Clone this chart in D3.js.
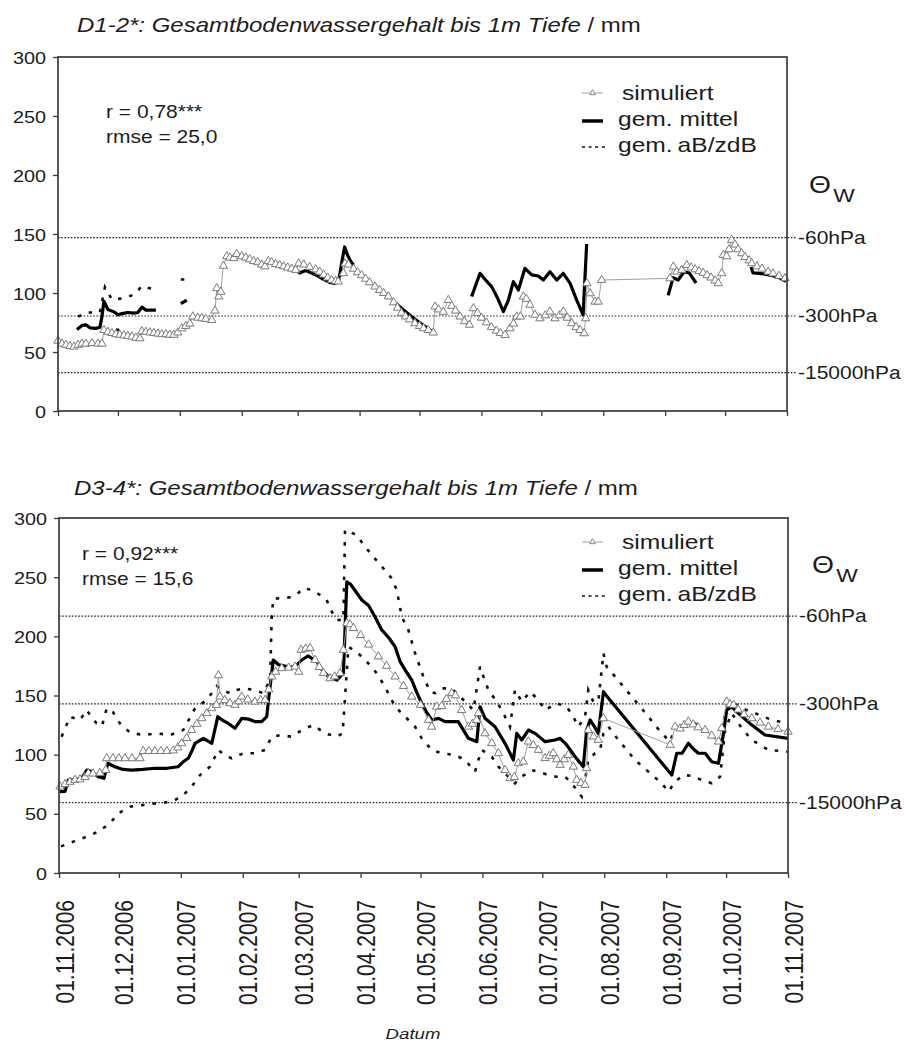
<!DOCTYPE html>
<html>
<head>
<meta charset="utf-8">
<script src="https://cdn.jsdelivr.net/npm/d3@7"></script>
<style>
  html, body { margin: 0; padding: 0; background: #fff; }
  svg { display: block; font-family: "Liberation Sans", Arial, sans-serif; }
</style>
</head>
<body>
<svg id="chart" width="904" height="1046"></svg>
<script>
// Observation period: day offsets counted from 01.11.2006
const periodStart = Date.UTC(2006, 10, 1);
const periodEnd = Date.UTC(2007, 10, 1);

const yTicks = [0, 50, 100, 150, 200, 250, 300];
const tensionLabels = ["-60hPa", "-300hPa", "-15000hPa"];
const legendLabels = ["simuliert", "gem. mittel", "gem.\u2009aB/zdB"];

// ---------- D1-2* ----------
const tensionLevelsD12 = [147, 80.5, 32.5];
const statsD12 = ["r = 0,78***", "rmse = 25,0"];

const simD12 = [
  [0,59.5],[2,57],[4,56],[6,55],[8,54.5],[10,56],[12,57],[14,57],[17,57.5],[20,57],[22,57],
  [23,68.5],[25,67],[27,66],[29,65],[31,64.5],[33,64],[35,63.5],[37,63],[39,62],[41,61.5],
  [42,67.5],[44,67],[46,66.5],[48,66],[50,65.5],[52,65],[54,65],[56,64.5],[58,64.5],[60,66.5],
  [62,70],[64,72],[66,74],[67.5,80],[70,79],[72,78.5],[74,78],[77,77],[78.6,85],[79.5,104],
  [80.5,97],[81.5,101],[82.8,123],[84.5,131],[86,130],[88,129.5],[89.5,133],[92,131],[94,130],
  [96,128.5],[98,127],[100,126],[102,124],[103.6,122.5],[105.3,127],[107,126],[109,124.5],
  [111,123.5],[113,122.5],[115,121.5],[117,120.5],[119,119.5],[120.5,125],[123,124],[126,122],
  [129,120],[131,118],[133,115.5],[135,113],[137,111],[139,110],[140.3,109.6],[142.9,116.7],
  [143.7,125],[145.4,124],[148,120.5],[150,117.5],[152,115],[154,112],[156,109],[158.7,105.4],
  [161,102.5],[163,100],[165.4,97],[168,92],[170,87.5],[172,83],[174,80],[176,77.5],[178.7,74.3],
  [181,72],[183,70],[185.4,68.6],[187.9,66.4],[188.8,88.4],[190.5,86],[192.9,84],[195.4,94],
  [197.1,89],[199,85],[201.3,80],[203.5,76],[206,73],[208,87],[210,83],[212,79],[214.5,75],
  [217,71],[219.5,68],[221.5,66],[223.8,64.4],[226.3,70],[228,74],[229.7,80],[231.5,80],[233,97],
  [234.5,95],[236.3,90],[238.8,81.5],[241.3,78.5],[244,81],[246.3,84.2],[248.8,78.5],[251,81],
  [253,84.2],[255,79],[257.2,74.3],[259.4,71],[261.4,68.6],[263.4,65.8],[264.2,78.5],[264.8,108.2],
  [266.4,99.7],[268.9,92.6],[270.5,92.6],[272.2,111],[306.4,112.4],[308.1,122.3],[309.8,118],
  [312.3,119.5],[314.8,123.7],[317,121.5],[319,120],[321,118.5],[323,117],[325,115],[327,113],
  [329,110.5],[330.6,108.2],[332.3,116.7],[333.1,132.2],[334.8,131],[336,137],[337.3,144.9],
  [339,141],[340.5,137],[342.3,133.6],[344,130.5],[346,127.5],[347.3,125.2],[350,122.5],
  [352.5,120.5],[355.6,118],[358,116.5],[361,114.5],[364,112.4]
];

// measured mean; null marks a gap in the record
const meanD12 = [
  [9.5,69],[12,72.5],[14,73],[16,70.5],[19,70],[21,71],[22,80],[23,93],[25,86],[28,84],[30,81.5],
  [32,82.5],[35,83.5],[38,83],[40,83.5],[42,88],[44,85.5],[49,85.5],[49.5,null],
  [61.5,91],[63,92.5],[64.5,94],[65,null],
  [119,120],[121,117],[124,119],[127,117],[130,114.5],[133,111.5],[136,109],[138.5,108],[140.5,110],
  [142.3,128],[143.5,139],[145,132],[146.5,127],[148,123.5],[148.5,null],
  [169,91.5],[173,85.5],[177,80],[181,75],[185,70],[188,66.5],[188.5,null],
  [207.1,97],[211.3,116.7],[214.6,110],[217.1,105.4],[220,96],[223,84.2],[225.5,94],[228,109.6],
  [230.5,102.5],[233.8,120.9],[237.2,115.3],[240.5,114.4],[243,111],[246.3,118],[249.7,111],
  [253,116.7],[256.4,108.2],[259.7,94],[262.9,81.4],[264.7,141.5],[265,null],
  [305.5,98],[308,113],[310.5,111],[313.5,118],[316,117],[319.5,108.5],[320,null],
  [347,122],[348,117],[352,116.5],[357,115],[361,113],[364.5,110]
];

const upperD12 = [
  [10,80],[15,83.5],[21,83.5],[23.5,105],[27,94.5],[33,95.5],[38.5,99],[42,106],[48,103],[48.5,null],
  [61.5,111.5],[63.5,111.5]
];
const lowerD12 = [[29,69],[31.5,68.5]];

// ---------- D3-4* ----------
const tensionLevelsD34 = [217, 143, 59.5];
const statsD34 = ["r = 0,92***", "rmse = 15,6"];

const simD34 = [
  [0.5,73],[3,75],[5.5,77],[8,78.6],[10.5,79],[13,81],[14.7,84.2],[17,84],[20.5,84.5],[23.4,87],
  [23.9,96.9],[27,96.9],[30,96.9],[33,96.9],[36.5,96.9],[40.6,96.9],[42.2,103],[45,103],[48,103],
  [51,103],[54,103],[57.2,103.5],[59.5,106],[61.4,109.6],[63.9,114],[66.4,120.8],[69,126],
  [71.5,130.7],[74,135],[76.5,139.2],[78.8,142],[79.8,167],[80.6,149],[83,146],[85.6,143.4],
  [88.1,142],[90,145],[91.5,149],[94.5,146.5],[98.1,144.8],[101,146],[103.2,146.2],[105,155],
  [106.5,166],[108.5,170],[111.5,173],[115,173.5],[118.2,174.3],[120,170],[121.2,188.5],
  [123.5,189.5],[125.7,190],[128.2,180],[130.3,174],[132.4,169],[135.7,164.5],[138,166],
  [140.7,168.8],[142.4,188.5],[144.1,211],[145.7,210],[147.4,207],[151,201],[155,193],
  [159.9,183],[164,175],[168.3,166],[172.5,158],[176.6,149],[181,142],[185,129.3],[186.6,123.6],
  [189.1,140.5],[191.6,141],[194,147],[196.6,151.9],[198.5,150],[201.6,137.7],[205,123.6],
  [207,126],[209.1,129.3],[210,135],[213.3,118],[216.7,109.6],[220,101.2],[223.3,87],[225.8,80],
  [228,81],[230,92.7],[232.5,94],[235,111],[237.5,108],[240,104],[243.4,97],[245.5,99],
  [247.5,101.2],[249.2,96],[250.9,91.3],[253,96],[255,99.7],[257.5,89.8],[259.2,78.6],[261.3,76],
  [263.4,74.4],[264.2,88.5],[265,120.8],[267.6,115.2],[270,112.4],[272.6,130.7],[306,108.2],
  [308.5,123.6],[311,122],[313,125],[315.1,127.9],[317.5,125.5],[320,123],[323.5,120.8],
  [326.8,116],[330.2,111],[331.8,122.3],[334.3,144.8],[336,142.5],[337.7,142],[340,138],
  [343,134],[346.9,130.7],[351,127],[355.2,123.6],[360,121.5],[365,119.4]
];

const meanD34 = [
  [0.5,68.7],[3,69],[4.7,78.6],[8,79],[11.4,80],[13.9,87],[16,86],[19.7,81.4],[22.5,80],[24.4,92.7],
  [28,89.8],[32,87.5],[36.4,87],[42,87.5],[48.1,88.5],[54,88.5],[59.7,89.8],[62.2,94],[64.7,97],
  [66.5,103],[68.1,109.6],[72.3,113.8],[76.5,109.6],[79.5,132.1],[82,129],[84.8,126.4],[88.1,122.3],
  [91.5,130.7],[95,130],[98,128],[101.5,127.9],[104,132.1],[105.5,155],[107.3,180],[110,176],
  [114.8,174.3],[118,174],[121.5,180],[124.8,183.4],[129,178.6],[131.5,172],[134.9,166],[139.1,163],
  [142.4,168.8],[144.1,246],[146,244],[151.6,230.7],[155,226],[158.2,216.6],[161.6,205.4],[165,199],
  [168.3,191.2],[170.8,178.6],[173.5,171],[176.6,163.1],[179,153],[181.6,143.4],[184,136],
  [186.6,129.3],[190,130.7],[193.3,127.9],[199.9,127.9],[205,113.8],[209.2,111],[210.8,140.5],
  [213.3,130.7],[218.3,123.6],[223.3,109.6],[227.5,95.5],[229.2,118],[231.7,112.4],[235,120.8],
  [238.4,118],[243.4,111],[248.4,112.4],[250.9,113.8],[254.2,108.2],[258.4,98.3],[262.5,89.8],
  [264.2,120.8],[265.9,129.3],[268,124],[270,118],[272.6,153.2],[274,150],[306.8,82.8],[309.3,101.2],
  [312,101.2],[315.1,109.6],[317.5,105],[320.1,101.2],[323.5,101.2],[326.8,94],[330.2,92.7],
  [332.7,118],[334.3,137.7],[336.8,140.5],[339.5,136],[346.9,125],[353.5,116.6],[365,113.8]
];

const upperD34 = [
  [1.3,115.2],[5.5,132],[10.5,129.3],[13.9,137.7],[16.5,131],[18.9,126.4],[21.5,124],[23.9,139.2],
  [27,136],[30.5,126.4],[35.6,118.6],[42.2,116.6],[48.9,118],[55.6,116.6],[62.2,120.8],[68.1,139.2],
  [74,146.2],[79,158],[81.5,155],[85.6,151.9],[89,154.6],[92.3,156],[98.1,154.6],[102.3,151.9],
  [105.7,163.1],[106.5,216.6],[107.3,232],[112.3,232.1],[117.3,233.5],[123.2,241],[129,237],
  [134,230.7],[136.5,221],[139,213.8],[142.4,213.8],[143.2,289.9],[149,285.6],[153.2,275.8],
  [157.4,267.3],[162.4,257.4],[166.6,249],[169.1,239.2],[171.6,216.6],[174.9,205.4],[178.3,185.7],
  [182.4,166],[185.8,153.2],[188.3,152],[191.6,156],[196.6,156],[202.5,146.2],[207.5,137.7],
  [210.8,174.3],[212.5,166],[215,154.6],[219.2,144.8],[222.5,135],[225.8,123.6],[228.3,154.6],
  [231.7,144.8],[235.9,153.2],[240,146.2],[243.4,137.7],[249.2,143.4],[254.2,140.5],[257.5,132.1],
  [260,123.6],[263.4,132.1],[265,154.6],[267.5,144.8],[270,144.8],[272.6,185.7],[274.2,174.3],
  [278.4,166],[286.8,149],[295.1,132.1],[301.8,118],[306,111],[308.5,123.6],[312,124],[316,129.3],
  [321.8,122.3],[327.6,115.2],[331,109.6],[333.5,135],[336.8,144.8],[341.9,139.2],[348.5,135],
  [356.9,129.3],[365,126.4]
];

const lowerD34 = [
  [1,22.5],[7.2,26.5],[13.9,30.7],[19.7,34.9],[25.5,42],[29.7,50.4],[35.6,56],[42.2,57.5],
  [48.9,58.9],[56.4,60.3],[61.4,64.5],[66.4,72.9],[70.6,82.8],[75.6,89.8],[79.8,104],[82.5,100],
  [86.5,96.9],[92.3,101.2],[98.1,101.2],[103.2,104],[106.5,115.2],[111,116.5],[116.5,115.2],
  [122.3,121.5],[127.3,125],[133.2,118],[139,115.2],[142,118],[144.9,191],[149,187],[154.1,178.6],
  [159.1,168.8],[163.2,157.4],[168.3,140.5],[173.3,132.1],[178.3,123.6],[181.6,113.8],[186.6,104],
  [191.6,101.2],[198.3,99.7],[203.3,95.5],[208.3,85.6],[210,95.5],[211.7,104],[216.7,98.3],
  [220,89.8],[225,81.4],[228.3,75.8],[231.7,81.4],[236.7,87],[242.5,84.2],[245,82.8],[249,81.4],
  [253.4,81.4],[256.7,75.8],[261.7,64.5],[263.4,78.6],[265,95.5],[268.4,101.2],[270.9,104],
  [272.6,118],[275.1,123.6],[280.1,112.4],[288.4,95.5],[295.1,85.6],[301.8,75.8],[305.1,68.7],
  [308.5,77.2],[312.6,82.8],[317,82],[321.8,78.6],[326.8,75.8],[331,81.4],[333.5,120.8],
  [336.8,135],[341.9,122.3],[346.9,112.4],[355.2,104],[365,102.5]
];

// ---------- drawing ----------
const SX = 1.2;                         // horizontal glyph stretch
const INK = "#1c1c1c";
const svg = d3.select("#chart");
const dayToDate = d => new Date(periodStart + d * 864e5);
const months = d3.utcMonth.range(new Date(periodStart), new Date(periodEnd + 864e5));

function stretchedText(g, x, y, str, size, anchor = "start") {
  return g.append("text")
    .attr("transform", `translate(${x},${y}) scale(${SX},1)`)
    .attr("font-size", size)
    .attr("text-anchor", anchor)
    .attr("fill", INK)
    .text(str);
}

function panel(cfg) {
  const g = svg.append("g");
  const { l, r, t, b } = cfg.box;
  const x = d3.scaleUtc().domain([new Date(periodStart), new Date(periodEnd)]).range([l, r]);
  const y = d3.scaleLinear().domain([0, 300]).range([b, t]);

  // title
  const title = g.append("text")
    .attr("transform", `translate(${cfg.titlePos[0]},${cfg.titlePos[1]}) scale(${SX},1)`)
    .attr("font-size", 20).attr("fill", INK);
  title.append("tspan").attr("font-style", "italic").text(cfg.title);
  title.append("tspan").text(" / mm");

  // soil water tension reference levels
  cfg.levels.forEach((v, i) => {
    g.append("line")
      .attr("x1", l).attr("x2", r + 10)
      .attr("y1", y(v)).attr("y2", y(v))
      .attr("stroke", "#222").attr("stroke-width", 1.2)
      .attr("stroke-dasharray", "1.6 1.6");
    stretchedText(g, r + 11, y(v) + 6, tensionLabels[i], 17.5);
  });

  const line = d3.line()
    .defined(d => d[1] != null)
    .x(d => x(dayToDate(d[0])))
    .y(d => y(d[1]));

  // measured range (aB / zdB)
  [cfg.upper, cfg.lower].forEach(s => {
    g.append("path").attr("d", line(s))
      .attr("fill", "none").attr("stroke", "#111")
      .attr("stroke-width", 2.6).attr("stroke-dasharray", "3.5 8");
  });

  // measured mean
  g.append("path").attr("d", line(cfg.mean))
    .attr("fill", "none").attr("stroke", "#000")
    .attr("stroke-width", 3.2).attr("stroke-linejoin", "round");

  // simulated
  g.append("path").attr("d", line(cfg.sim))
    .attr("fill", "none").attr("stroke", "#a0a0a0").attr("stroke-width", 1);
  const tri = d3.symbol().type(d3.symbolTriangle).size(30);
  g.append("g").selectAll("path").data(cfg.sim).join("path")
    .attr("transform", d => `translate(${x(dayToDate(d[0]))},${y(d[1])})`)
    .attr("d", tri())
    .attr("fill", "#fff").attr("stroke", "#7a7a7a").attr("stroke-width", 1);

  // frame
  g.append("rect").attr("x", l).attr("y", t).attr("width", r - l).attr("height", b - t)
    .attr("fill", "none").attr("stroke", "#3a3a3a").attr("stroke-width", 1.7);

  // y axis
  const ya = g.append("g").attr("transform", `translate(${l},0)`)
    .call(d3.axisLeft(y).tickValues(yTicks).tickSize(5).tickPadding(0));
  ya.select(".domain").remove();
  ya.selectAll(".tick line").attr("stroke", "#3a3a3a").attr("stroke-width", 1.3);
  ya.selectAll(".tick text")
    .attr("x", null).attr("dy", null)
    .attr("transform", `translate(-12,6) scale(${SX},1)`)
    .attr("font-size", 16.5).attr("font-family", null).attr("fill", INK);

  // x axis
  const xa = g.append("g").attr("transform", `translate(0,${b})`)
    .call(d3.axisBottom(x).tickValues(months).tickSize(5)
      .tickFormat(cfg.dateLabels ? d3.utcFormat("%d.%m.%Y") : ""));
  xa.select(".domain").remove();
  xa.selectAll(".tick line").attr("stroke", "#3a3a3a").attr("stroke-width", 1.3);
  xa.selectAll(".tick text")
    .attr("y", null).attr("dy", null)
    .attr("text-anchor", "end")
    .attr("transform", `translate(14,27) scale(${SX},1) rotate(-90)`)
    .attr("font-size", 21).attr("font-family", null).attr("fill", INK);

  // statistics
  stretchedText(g, cfg.statsPos[0], cfg.statsPos[1], cfg.stats[0], 17.5);
  stretchedText(g, cfg.statsPos[0], cfg.statsPos[1] + 24.5, cfg.stats[1], 17.5);

  // legend
  const [lx, ly0, lstep] = cfg.legend;
  const lys = [ly0, ly0 + lstep, ly0 + 2 * lstep];
  g.append("line").attr("x1", lx).attr("x2", lx + 21).attr("y1", lys[0] - 7).attr("y2", lys[0] - 7)
    .attr("stroke", "#a0a0a0").attr("stroke-width", 1);
  g.append("path").attr("transform", `translate(${lx + 10.5},${lys[0] - 7})`)
    .attr("d", d3.symbol().type(d3.symbolTriangle).size(14)())
    .attr("fill", "#fff").attr("stroke", "#7a7a7a").attr("stroke-width", 0.9);
  g.append("line").attr("x1", lx).attr("x2", lx + 21).attr("y1", lys[1] - 5).attr("y2", lys[1] - 5)
    .attr("stroke", "#000").attr("stroke-width", 3.5);
  g.append("line").attr("x1", lx).attr("x2", lx + 24).attr("y1", lys[2] - 5).attr("y2", lys[2] - 5)
    .attr("stroke", "#111").attr("stroke-width", 1.4).attr("stroke-dasharray", "3 3.6");
  stretchedText(g, lx + 40, lys[0], legendLabels[0], 20.5);
  stretchedText(g, lx + 36, lys[1], legendLabels[1], 20.5);
  stretchedText(g, lx + 36, lys[2], legendLabels[2], 20.5);

  // volumetric water content symbol
  const th = g.append("text")
    .attr("transform", `translate(${cfg.thetaPos[0]},${cfg.thetaPos[1]}) scale(${SX},1)`)
    .attr("fill", INK);
  th.append("tspan").attr("font-size", 23.5).text("\u0398");
  th.append("tspan").attr("font-size", 19).attr("dx", 2).attr("dy", 9).text("W");
}

panel({
  box: { l: 58, r: 787, t: 57, b: 411 },
  title: "D1-2*: Gesamtbodenwassergehalt bis 1m Tiefe",
  titlePos: [77, 32],
  levels: tensionLevelsD12,
  stats: statsD12, statsPos: [106, 118],
  legend: [582, 100, 26],
  thetaPos: [809, 193],
  sim: simD12, mean: meanD12, upper: upperD12, lower: lowerD12,
  dateLabels: false
});

panel({
  box: { l: 59, r: 788, t: 518, b: 873 },
  title: "D3-4*: Gesamtbodenwassergehalt bis 1m Tiefe",
  titlePos: [74, 495],
  levels: tensionLevelsD34,
  stats: statsD34, statsPos: [82, 560],
  legend: [582, 549, 26],
  thetaPos: [812, 573],
  sim: simD34, mean: meanD34, upper: upperD34, lower: lowerD34,
  dateLabels: true
});

// x axis title
svg.append("text")
  .attr("transform", `translate(413,1039) scale(${SX},1)`)
  .attr("text-anchor", "middle").attr("font-size", 15.5)
  .attr("font-style", "italic").attr("fill", INK)
  .text("Datum");
</script>
</body>
</html>
